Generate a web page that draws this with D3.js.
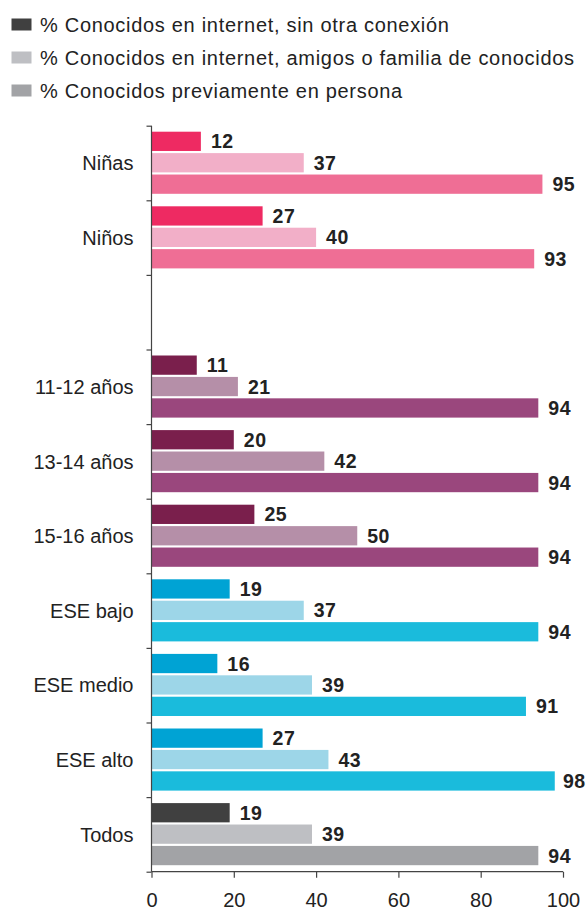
<!DOCTYPE html>
<html>
<head>
<meta charset="utf-8">
<script src="https://cdn.jsdelivr.net/npm/d3@7"></script>
<style>
  body { margin: 0; background: #fff; }
  text { font-family: "Liberation Sans", Arial, sans-serif; fill: #222; }
</style>
</head>
<body>
<div id="chart"></div>
<script>
// categories (the empty one is the blank row between sex and age groups)
const categories = ["Niñas", "Niños", "", "11-12 años", "13-14 años", "15-16 años",
  "ESE bajo", "ESE medio", "ESE alto", "Todos"];
const sinOtraConexion = [12, 27, null, 11, 20, 25, 19, 16, 27, 19];
const amigosFamilia = [37, 40, null, 21, 42, 50, 37, 39, 43, 39];
const enPersona = [95, 93, null, 94, 94, 94, 94, 91, 98, 94];
const seriesNames = [
  "% Conocidos en internet, sin otra conexión",
  "% Conocidos en internet, amigos o familia de conocidos",
  "% Conocidos previamente en persona"
];
const xTicks = [0, 20, 40, 60, 80, 100];

// colour per group: [dark, light, mid]
const pink = ["#ee2a62", "#f2afc8", "#ef6e95"];
const plum = ["#7a1f4c", "#b58fa8", "#9a477d"];
const cyan = ["#00a3d4", "#9dd6e8", "#1abbdc"];
const grey = ["#404040", "#bebfc3", "#a2a3a6"];
const groupColors = [pink, pink, pink, plum, plum, plum, cyan, cyan, cyan, grey];

const width = 587, height = 910;
const svg = d3.select("#chart").append("svg")
  .attr("width", width)
  .attr("height", height);

// legend
const legend = svg.append("g");
seriesNames.forEach((name, i) => {
  const cy = 24.5 + i * 33;
  legend.append("rect")
    .attr("x", 11.5).attr("y", cy - 6)
    .attr("width", 20).attr("height", 12)
    .attr("fill", grey[i]);
  legend.append("text")
    .attr("x", 40).attr("y", cy + 7)
    .style("font-size", "20px")
    .style("letter-spacing", "0.7px")
    .text(name);
});

const x = d3.scaleLinear().domain([0, 100]).range([151.5, 563]);
const y = d3.scaleBand().domain(d3.range(categories.length)).range([125.7, 871.7]);
const yEdge = d3.scaleLinear().domain([0, categories.length]).range([125.7, 871.7]);
const sub = d3.scaleBand().domain([0, 1, 2]).range([6, y.bandwidth() - 6.5]).paddingInner(0.1);

const rows = categories.map((c, i) => ({
  cat: c, i: i,
  values: [sinOtraConexion[i], amigosFamilia[i], enPersona[i]]
}));

const bars = [];
rows.forEach(r => r.values.forEach((v, k) => {
  if (v != null) bars.push({ i: r.i, k: k, v: v });
}));

svg.append("g").selectAll("rect")
  .data(bars)
  .join("rect")
  .attr("x", x(0) + 0.5)
  .attr("y", d => y(d.i) + sub(d.k))
  .attr("width", d => x(d.v) - x(0) - 0.5)
  .attr("height", sub.bandwidth())
  .attr("fill", d => groupColors[d.i][d.k]);

// value labels, kept inside the right edge
svg.append("g").selectAll("text")
  .data(bars)
  .join("text")
  .attr("x", d => Math.min(x(d.v) + 10, 563))
  .attr("y", d => y(d.i) + sub(d.k) + sub.bandwidth() / 2)
  .attr("dy", "0.36em")
  .style("font-size", "19.5px")
  .style("font-weight", "bold")
  .style("letter-spacing", "0.5px")
  .text(d => d.v);

// category labels
svg.append("g").selectAll("text")
  .data(rows.filter(r => r.cat !== ""))
  .join("text")
  .attr("x", 133.5)
  .attr("y", d => y(d.i) + y.bandwidth() / 2)
  .attr("dy", "0.36em")
  .attr("text-anchor", "end")
  .style("font-size", "20px")
  .text(d => d.cat);

// y axis with ticks at band edges
const yAxis = svg.append("g")
  .attr("transform", `translate(${x(0)},0)`)
  .call(d3.axisLeft(yEdge).tickValues(d3.range(categories.length + 1)).tickSize(5).tickFormat(""));
yAxis.select(".domain").attr("d", `M0,${yEdge(0)}V${yEdge(categories.length)}`);

// x axis
const xAxis = svg.append("g")
  .attr("transform", `translate(0,${yEdge(categories.length)})`)
  .call(d3.axisBottom(x).tickValues(xTicks).tickSize(6).tickPadding(15.5));
xAxis.select(".domain").attr("d", `M${x(0)},0H${x(100)}`);
xAxis.selectAll("text")
  .style("font-size", "20px")
  .style("font-family", "'Liberation Sans', Arial, sans-serif")
  .attr("fill", "#222");

svg.selectAll(".domain, .tick line").attr("stroke", "#444").attr("stroke-width", 1.2);
</script>
</body>
</html>
